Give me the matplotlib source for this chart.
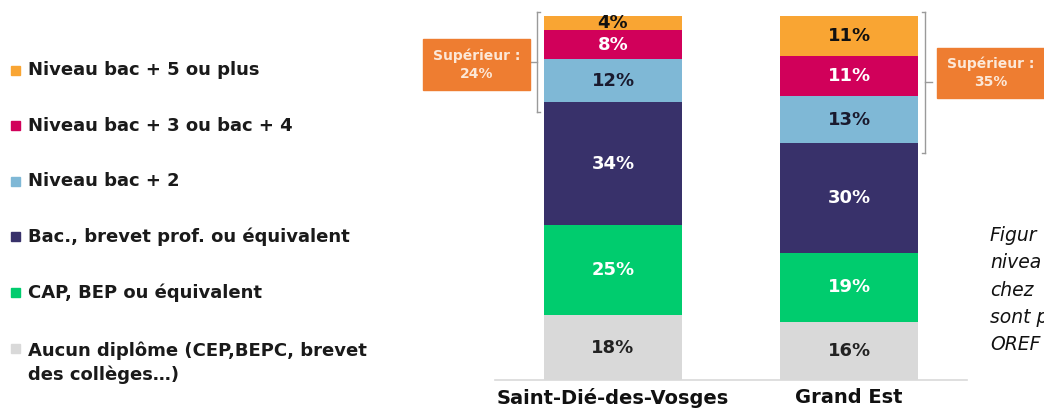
import numpy as np
import matplotlib
matplotlib.use("Agg")
import matplotlib.pyplot as plt
from matplotlib.patches import Rectangle

# Data (bottom to top of each stacked bar)
zones = ["Saint-Dié-des-Vosges", "Grand Est"]
levels = [
    "Aucun diplôme (CEP,BEPC, brevet\ndes collèges…)",
    "CAP, BEP ou équivalent",
    "Bac., brevet prof. ou équivalent",
    "Niveau bac + 2",
    "Niveau bac + 3 ou bac + 4",
    "Niveau bac + 5 ou plus",
]
saint_die = [18, 25, 34, 12, 8, 4]
grand_est = [16, 19, 30, 13, 11, 11]
superieur = [24, 35]
# caption text, only the part visible at the right edge
caption = ["Figur", "nivea", "chez", "sont p", "OREF"]

colors = ["#D9D9D9", "#00CC6E", "#38316A", "#7FB8D6", "#D1005A", "#F9A533"]
text_colors = ["#222222", "white", "white", "#1a1a2e", "white", "#111111"]

W, H = 1044, 417
fig = plt.figure(figsize=(W / 100, H / 100), dpi=100)

def fx(px):
    return px / W

def fy(px):
    return 1 - px / H

ax = fig.add_axes([fx(495), fy(380), fx(967) - fx(495), fy(16) - fy(380)])
ax.set_xlim(-0.5, 1.5)
ax.set_ylim(0, 100)

bar_w = 0.585
x = np.arange(len(zones))
values = np.array([saint_die, grand_est], dtype=float)
# each bar drawn as 100 % (rounded figures don't always add up)
norm = values / values.sum(axis=1, keepdims=True) * 100
bottoms = np.zeros(len(zones))
for j in range(len(levels)):
    ax.bar(x, norm[:, j], bar_w, bottom=bottoms, color=colors[j], edgecolor="none")
    for i in range(len(zones)):
        ax.text(x[i], bottoms[i] + norm[i, j] / 2, f"{int(values[i, j])}%",
                ha="center", va="center", fontsize=13, fontweight="bold",
                color=text_colors[j])
    bottoms += norm[:, j]

for s in ["top", "left", "right"]:
    ax.spines[s].set_visible(False)
ax.spines["bottom"].set_color("#D9D9D9")
ax.spines["bottom"].set_linewidth(1.2)
ax.set_yticks([])
ax.set_xticks(x)
ax.set_xticklabels(zones, fontsize=14, fontweight="bold", color="#111111")
ax.tick_params(axis="x", length=0, pad=6)

# brackets around the "supérieur" part
bracket_col = "#9A9A9A"
sup_low = norm[:, 3:].sum(axis=1)
for i, side in enumerate([-1, 1]):
    bx = x[i] + side * (bar_w / 2 + 0.03)
    y0 = 100 - sup_low[i] - 2.5
    y1 = 101
    ax.plot([bx, bx], [y0, y1], color=bracket_col, lw=1, clip_on=False)
    ax.plot([bx, bx - side * 0.012], [y0, y0], color=bracket_col, lw=1, clip_on=False)
    ax.plot([bx, bx - side * 0.012], [y1, y1], color=bracket_col, lw=1, clip_on=False)
    ym = (y0 + y1) / 2
    ax.plot([bx, bx + side * 0.03], [ym, ym], color=bracket_col, lw=1, clip_on=False)

# orange boxes
boxes = [(423, 39, 530, 90), (937, 48, 1050, 98)]
for (l, t, r, b), val in zip(boxes, superieur):
    fig.patches.append(Rectangle((fx(l), fy(b)), fx(r) - fx(l), fy(t) - fy(b),
                                 transform=fig.transFigure, color="#EE7D31", zorder=0))
    fig.text(fx((l + min(r, W)) / 2), fy((t + b) / 2), f"Supérieur :\n{val}%",
             ha="center", va="center", fontsize=10, fontweight="bold",
             color="#FCE8D8", linespacing=1.4)

# legend (top to bottom)
for k, j in enumerate(range(len(levels) - 1, -1, -1)):
    yc = 70 + k * 55.6
    fig.patches.append(Rectangle((fx(11), fy(yc + 4.5)), fx(9), 9 / H,
                                 transform=fig.transFigure, color=colors[j]))
    label = levels[j]
    if "\n" in label:
        fig.text(fx(28), fy(yc) + 6.5 / H, label, ha="left", va="top",
                 fontsize=13, fontweight="bold", color="#1a1a1a", linespacing=1.4)
    else:
        fig.text(fx(28), fy(yc), label, ha="left", va="center",
                 fontsize=13, fontweight="bold", color="#1a1a1a")

for k, line in enumerate(caption):
    fig.text(fx(990), fy(235 + k * 27.5), line, ha="left", va="center",
             fontsize=13.5, fontstyle="italic", color="#111111")

fig.savefig("out.png", dpi=100)
